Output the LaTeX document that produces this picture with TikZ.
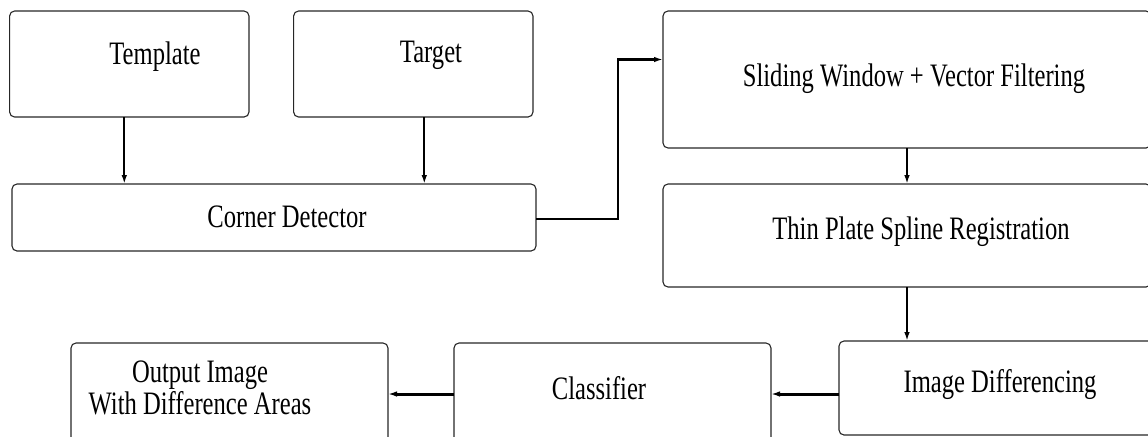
\documentclass[tikz,border=0pt]{standalone}
\usepackage{fontspec}
\setmainfont{Liberation Serif}
\usetikzlibrary{arrows.meta}
\newcommand{\vstretch}[1]{\scalebox{1}[1.33]{#1}}
\begin{document}
\begin{tikzpicture}[x=0.5pt,y=-0.5pt,
	box/.style={draw=black!85, line width=0.55pt, rounded corners=2.5pt, inner sep=0pt, outer sep=0pt},
	lbl/.style={font=\fontsize{12.3}{16}\selectfont, align=center, inner sep=0pt},
	arr/.style={line width=1pt, -{Latex[length=4.5pt,width=2.8pt]}},
	thickarr/.style={line width=1.5pt, -{Latex[length=4.5pt,width=2.8pt]}}]
	\useasboundingbox (0,0) rectangle (1148,436);
	\clip (0,0) rectangle (1148,436);
	\node[box, minimum width=119.7pt, minimum height=53pt] (tmpl) at (129.3,64) {};
	\node[box, minimum width=119.7pt, minimum height=53pt] (tgt) at (413.3,64) {};
	\node[box, minimum width=262pt, minimum height=33.5pt] (corner) at (274,217.5) {};
	\node[box, minimum width=244pt, minimum height=68.5pt] (slide) at (907,79.5) {};
	\node[box, minimum width=244pt, minimum height=51.5pt] (thin) at (907,235.5) {};
	\node[box, minimum width=160.5pt, minimum height=47pt] (imgdiff) at (999.5,388) {};
	\node[box, minimum width=158.5pt, minimum height=51pt] (cls) at (612.5,394) {};
	\node[box, minimum width=158.5pt, minimum height=51pt] (outimg) at (229.5,394) {};
	\node[lbl] (tmplTxt) at (155,57) {\vstretch{Template}};
	\node[lbl] (tgtTxt) at (431,55) {\vstretch{Target}};
	\node[lbl] (cornerTxt) at (287,217) {\vstretch{Corner Detector}};
	\node[lbl] (slideTxt) at (914,79) {\vstretch{Sliding Window + Vector Filtering}};
	\node[lbl] (thinTxt) at (921,232) {\vstretch{Thin Plate Spline Registration}};
	\node[lbl] (imgdiffTxt) at (1000,385) {\vstretch{Image Differencing}};
	\node[lbl] (clsTxt) at (599,388) {\vstretch{Classifier}};
	\node[lbl] (outimgTxt) at (200,388) {\vstretch{Output Image}\\\vstretch{With Difference Areas}};
	\draw[arr] ([xshift=-2.5pt]tmpl.south) -- ([xshift=-2.5pt]tmpl.south |- corner.north);
	\draw[arr] ([xshift=5.5pt]tgt.south) -- ([xshift=5.5pt]tgt.south |- corner.north);
	\draw[line width=1.3pt, -{Latex[length=4.5pt,width=2.8pt]}] ([yshift=-0.75pt]corner.east) -- ++(82,0) |- ([yshift=10pt]slide.west);
	\draw[arr] (slide.south) -- (slide.south |- thin.north);
	\draw[arr] (thin.south) -- (thin.south |- imgdiff.north);
	\draw[thickarr] (imgdiff.west |- cls.east) -- (cls.east);
	\draw[thickarr] (cls.west) -- (outimg.east);
\end{tikzpicture}
\end{document}
